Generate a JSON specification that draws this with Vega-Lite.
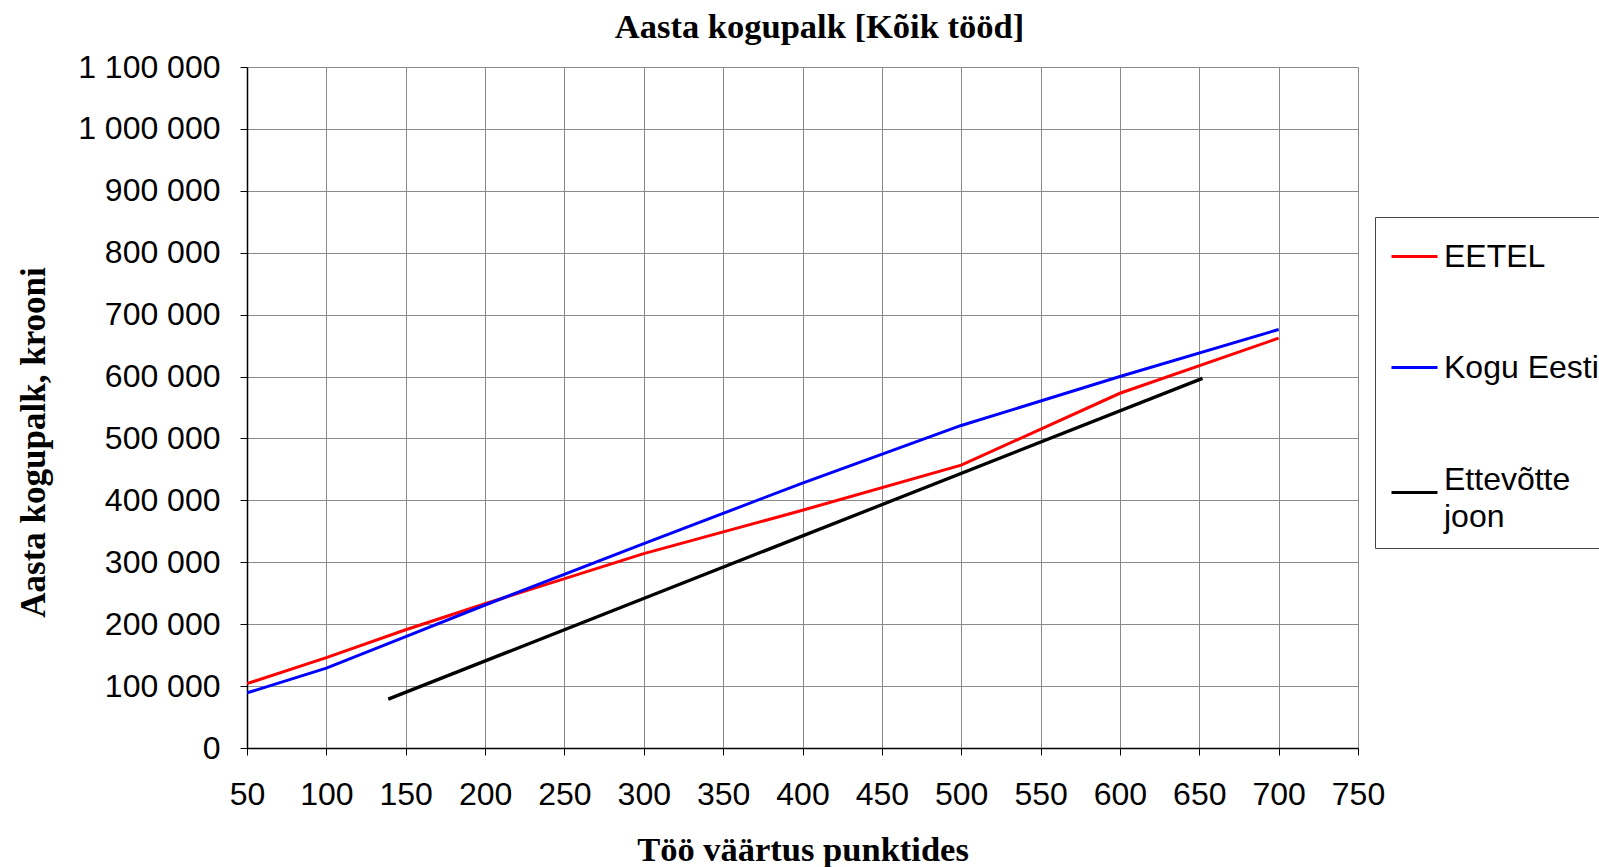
{
  "$schema": "https://vega.github.io/schema/vega-lite/v6.json",
  "autosize": {"type": "none"},
  "padding": {"left": 247, "top": 67, "right": 241, "bottom": 119},
  "width": 1111,
  "height": 681,
  "background": "white",
  "title": {
    "text": "Aasta kogupalk [Kõik tööd]",
    "font": "Liberation Serif",
    "fontSize": 34.5,
    "fontWeight": "bold",
    "color": "black",
    "anchor": "middle",
    "dx": 17,
    "offset": 6
  },
  "data": {
    "values": [
      {"series": "EETEL", "x": 50, "y": 104000},
      {"series": "EETEL", "x": 100, "y": 146000},
      {"series": "EETEL", "x": 150, "y": 191000},
      {"series": "EETEL", "x": 200, "y": 233000},
      {"series": "EETEL", "x": 300, "y": 314000},
      {"series": "EETEL", "x": 400, "y": 384000},
      {"series": "EETEL", "x": 500, "y": 457000},
      {"series": "EETEL", "x": 600, "y": 573000},
      {"series": "EETEL", "x": 700, "y": 662000},
      {"series": "Kogu Eesti", "x": 50, "y": 89000},
      {"series": "Kogu Eesti", "x": 100, "y": 129000},
      {"series": "Kogu Eesti", "x": 150, "y": 180000},
      {"series": "Kogu Eesti", "x": 200, "y": 231000},
      {"series": "Kogu Eesti", "x": 300, "y": 330000},
      {"series": "Kogu Eesti", "x": 400, "y": 428000},
      {"series": "Kogu Eesti", "x": 500, "y": 521000},
      {"series": "Kogu Eesti", "x": 600, "y": 600000},
      {"series": "Kogu Eesti", "x": 700, "y": 676000},
      {"series": "Ettevõtte joon", "x": 139, "y": 79000},
      {"series": "Ettevõtte joon", "x": 652, "y": 597000}
    ]
  },
  "mark": {"type": "line", "clip": true},
  "encoding": {
    "x": {
      "field": "x",
      "type": "quantitative",
      "scale": {"domain": [50, 750], "nice": false, "zero": false},
      "axis": {
        "title": "Töö väärtus punktides",
        "titleFont": "Liberation Serif",
        "titleFontSize": 34.5,
        "titleFontWeight": "bold",
        "titleColor": "black",
        "titleBaseline": "alphabetic",
        "titleY": 112,
        "values": [50, 100, 150, 200, 250, 300, 350, 400, 450, 500, 550, 600, 650, 700, 750],
        "labelFont": "Liberation Sans",
        "labelFontSize": 32,
        "labelColor": "black",
        "labelPadding": 24,
        "labelFlush": false,
        "labelOverlap": false,
        "tickSize": 7,
        "tickColor": "black",
        "domainColor": "black",
        "domainWidth": 1.5,
        "grid": true,
        "gridColor": "#8a8a8a",
        "gridWidth": 1,
        "gridOpacity": 1
      }
    },
    "y": {
      "field": "y",
      "type": "quantitative",
      "scale": {"domain": [0, 1100000], "nice": false},
      "axis": {
        "title": "Aasta kogupalk, krooni",
        "titleFont": "Liberation Serif",
        "titleFontSize": 35,
        "titleFontWeight": "bold",
        "titleColor": "black",
        "titleAngle": -90,
        "titleBaseline": "alphabetic",
        "titleAlign": "center",
        "titleX": -203,
        "titleY": 375,
        "values": [0, 100000, 200000, 300000, 400000, 500000, 600000, 700000, 800000, 900000, 1000000, 1100000],
        "labelExpr": "join(split(format(datum.value, ','), ','), ' ')",
        "labelFont": "Liberation Sans",
        "labelFontSize": 32,
        "labelColor": "black",
        "labelPadding": 20,
        "labelFlush": false,
        "labelOverlap": false,
        "tickSize": 7,
        "tickColor": "black",
        "domainColor": "black",
        "domainWidth": 1.5,
        "grid": true,
        "gridColor": "#8a8a8a",
        "gridWidth": 1,
        "gridOpacity": 1
      }
    },
    "color": {
      "field": "series",
      "type": "nominal",
      "scale": {
        "domain": ["EETEL", "Kogu Eesti", "Ettevõtte joon"],
        "range": ["#ff0000", "#0000ff", "#000000"]
      },
      "legend": {
        "title": null,
        "orient": "none",
        "legendX": 1128,
        "legendY": 150,
        "strokeColor": "#444444",
        "fillColor": "white",
        "padding": 15,
        "symbolType": "stroke",
        "symbolSize": 2116,
        "symbolStrokeWidth": 3,
        "labelFont": "Liberation Sans",
        "labelFontSize": 32,
        "labelColor": "black",
        "labelOffset": 5,
        "labelLimit": 400,
        "rowPadding": 70,
        "labelExpr": "datum.label == 'Ettevõtte joon' ? ['Ettevõtte', 'joon'] : (datum.label == 'Kogu Eesti' ? ['Kogu Eesti', ' '] : datum.label)",
        "encode": {
          "labels": {
            "update": {
              "lineHeight": {"signal": "datum.label == 'Kogu Eesti' ? 9 : 37"},
              "dy": {"signal": "datum.label == 'Ettevõtte joon' ? -13 : 0"}
            }
          }
        }
      }
    },
    "strokeWidth": {
      "condition": {"test": "datum.series == 'Ettevõtte joon'", "value": 3.3},
      "value": 3
    }
  },
  "config": {
    "view": {"stroke": null}
  }
}
